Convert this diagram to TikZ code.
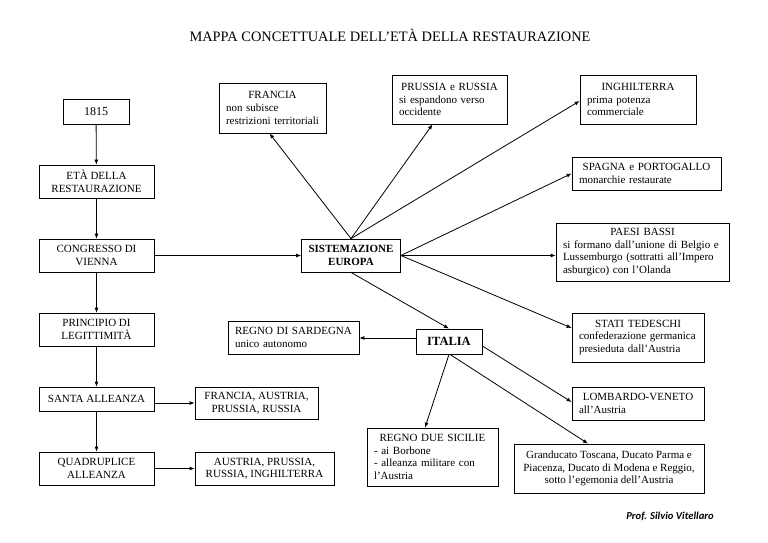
\documentclass[tikz,border=0pt]{standalone}
\usepackage{fontspec}
\setmainfont{Liberation Serif}
\newfontfamily\carlito{Carlito}
\usetikzlibrary{arrows.meta,calc}
\setlength\parindent{0pt}
\begin{document}
\begin{tikzpicture}[x=1pt,y=-1pt,
  bx/.style={draw, line width=0.8pt, inner xsep=7pt, inner ysep=0pt, align=center,
    font=\fontsize{11}{12.6}\selectfont},
  arr/.style={line width=0.8pt, -{Latex[length=5pt,width=4pt]}}]
\useasboundingbox[fill=white] (0,0) rectangle (768,543);
\node[font=\fontsize{14.4}{16}\selectfont] (title) at (390,35) {MAPPA CONCETTUALE DELL’ETÀ DELLA RESTAURAZIONE};
% left column
\node[bx, minimum width=66pt, minimum height=25pt, font=\fontsize{12}{14}\selectfont] (y1815) at (96,111.5) {1815};
\node[bx, minimum width=115pt, minimum height=33pt] (eta) at (96.5,181.5) {ETÀ DELLA\\RESTAURAZIONE};
\node[bx, minimum width=115pt, minimum height=33pt] (cong) at (96.5,255.5) {CONGRESSO DI\\VIENNA};
\node[bx, minimum width=115pt, minimum height=33pt] (princ) at (96.5,329.5) {PRINCIPIO DI\\LEGITTIMITÀ};
\node[bx, minimum width=115pt, minimum height=24pt] (santa) at (96.5,399) {SANTA ALLEANZA};
\node[bx, minimum width=115pt, minimum height=33pt] (quad) at (96.5,468.5) {QUADRUPLICE\\ALLEANZA};
\node[bx, minimum width=123pt, minimum height=32pt] (fap) at (256.5,403) {FRANCIA, AUSTRIA,\\PRUSSIA, RUSSIA};
\node[bx, minimum width=139pt, minimum height=33pt] (apri) at (264.5,468.5) {AUSTRIA, PRUSSIA,\\RUSSIA, INGHILTERRA};
% centre
\node[bx, minimum width=98pt, minimum height=33pt, font=\fontsize{11}{12.6}\selectfont\bfseries] (sist) at (351,255.5) {SISTEMAZIONE\\EUROPA};
\node[bx, minimum width=66pt, minimum height=25pt, font=\fontsize{12.5}{14}\selectfont\bfseries] (italia) at (449,341.5) {ITALIA};
% Europe boxes
\node[bx, minimum width=107pt, minimum height=50pt, text width=93pt, align=left] (fra) at (272.5,108)
  {\centering FRANCIA\par\raggedright non subisce\\restrizioni territoriali};
\node[bx, minimum width=115pt, minimum height=49pt, text width=101pt, align=left] (prus) at (449.5,99.5)
  {\centering PRUSSIA e RUSSIA\par\raggedright si espandono verso\\occidente};
\node[bx, minimum width=116pt, minimum height=49pt, text width=102pt, align=left] (ingh) at (638,99.5)
  {\centering INGHILTERRA\par\raggedright prima potenza\\commerciale};
\node[bx, minimum width=149pt, minimum height=33pt, text width=135pt, align=left] (spag) at (646.5,173.5)
  {\centering SPAGNA e PORTOGALLO\par\raggedright monarchie restaurate};
\node[bx, minimum width=173pt, minimum height=58pt, text width=159pt, align=left] (paesi) at (642.5,252)
  {\centering PAESI BASSI\par\raggedright si formano dall’unione di Belgio e\\Lussemburgo (sottratti all’Impero\\asburgico) con l’Olanda};
\node[bx, minimum width=132pt, minimum height=49pt, text width=118pt, align=left] (stati) at (638,337.5)
  {\centering STATI TEDESCHI\par\raggedright confederazione germanica\\presieduta dall’Austria};
% Italy boxes
\node[bx, minimum width=131pt, minimum height=33pt, text width=117pt, align=left] (sard) at (293.5,337.5)
  {\centering REGNO DI SARDEGNA\par\raggedright unico autonomo};
\node[bx, minimum width=132pt, minimum height=33pt, text width=118pt, align=left] (lomb) at (638,403.5)
  {\centering LOMBARDO-VENETO\par\raggedright all’Austria};
\node[bx, minimum width=131pt, minimum height=58pt, text width=117pt, align=left] (sic) at (432.5,457)
  {\centering REGNO DUE SICILIE\par\raggedright - ai Borbone\\- alleanza militare con\\l’Austria};
\node[bx, minimum width=190pt, minimum height=49pt] (gran) at (609,468.5)
  {Granducato Toscana, Ducato Parma e\\Piacenza, Ducato di Modena e Reggio,\\sotto l’egemonia dell’Austria};
\node[font=\carlito\fontsize{10.6}{12}\selectfont\bfseries\itshape] (prof) at (670,516) {Prof. Silvio Vitellaro};
% connectors
\draw[arr] (y1815) -- (eta);
\draw[arr] (eta) -- (cong);
\draw[arr] (cong) -- (princ);
\draw[arr] (princ) -- (santa);
\draw[arr] (santa) -- (quad);
\draw[arr] (santa.east |- fap.west) -- (fap.west);
\draw[arr] (quad.east) -- (apri.west);
\draw[arr] (cong.east) -- (sist.west);
\draw[arr] (sist.north) -- ([xshift=-3pt]fra.south);
\draw[arr] (sist.north) -- ([xshift=-17pt]prus.south);
\draw[arr] (sist.north) -- ([yshift=-1.5pt]ingh.west);
\draw[arr] (sist.east) -- (spag.west);
\draw[arr] (sist.east) -- (sist.east -| paesi.west);
\draw[arr] (sist.east) -- ([yshift=9.5pt]stati.west);
\draw[arr] (sist.south) -- (italia.north);
\draw[arr] ([yshift=3.5pt]italia.west) -- ([yshift=3.5pt]italia.west -| sard.east);
\draw[arr] ([yshift=-4.5pt]italia.east) -- ([yshift=1.5pt]lomb.west);
\draw[arr] (italia.south) -- ([xshift=-7.5pt]sic.north);
\draw[arr] ([xshift=1pt]italia.south) -- ([xshift=-21pt]gran.north);
\end{tikzpicture}
\end{document}
